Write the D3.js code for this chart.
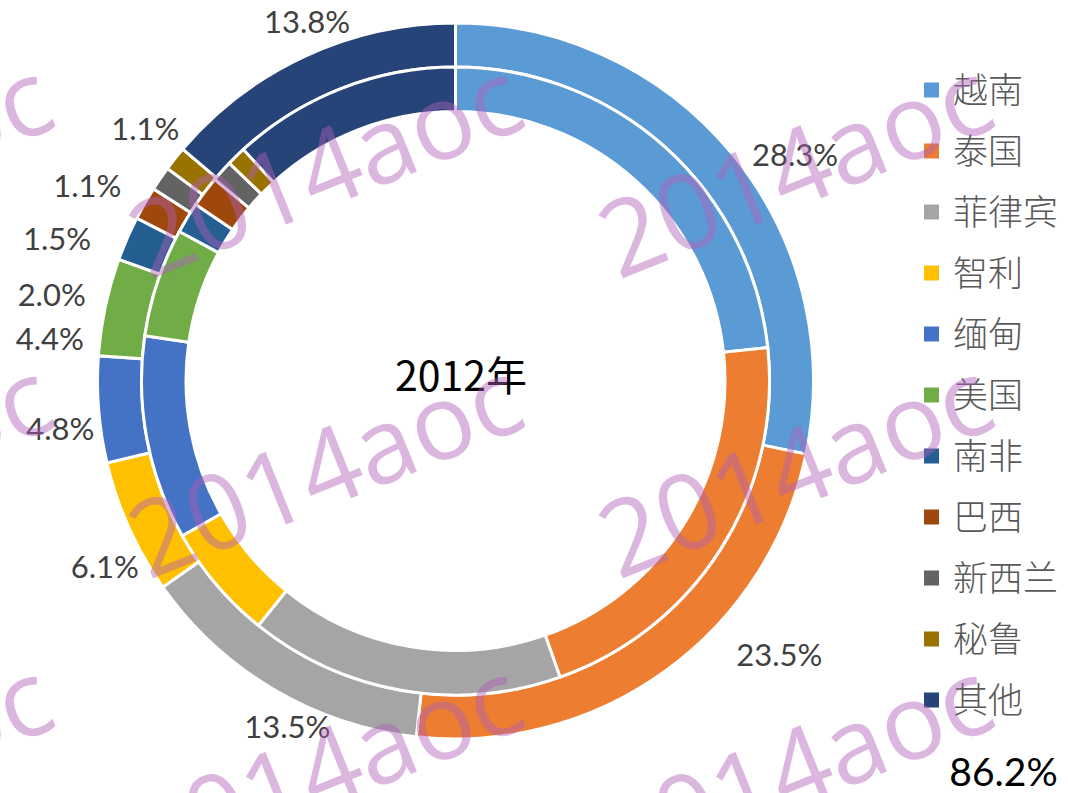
<!DOCTYPE html>
<html><head><meta charset="utf-8">
<script src="https://cdn.jsdelivr.net/npm/d3@7"></script>
<style>html,body{margin:0;padding:0;background:#fff;} svg{display:block}</style>
</head><body>
<svg id="chart" width="1068" height="793"></svg>
<script>
const categories = ["越南","泰国","菲律宾","智利","缅甸","美国","南非","巴西","新西兰","秘鲁","其他"];
const outerValues = [28.3,23.5,13.5,6.1,4.8,4.4,2.0,1.5,1.1,1.1,13.8];
const innerValues = [23.3,21.3,16.2,6.0,10.5,5.6,1.6,1.6,1.1,1.0,11.8];
const colors = ["#5B9BD5","#ED7D31","#A5A5A5","#FFC000","#4472C4","#70AD47","#255E91","#9E480E","#636363","#997300","#264478"];
const centerTitle = "2012年";
const totalLabel = "86.2%";
const watermarkText = "2014aoc";
// label placement: [angle in degrees clockwise from 12 o'clock, distance from centre]
const labelPolar = [[56.35,408],[130.2,424],[205.9,385],[242.05,397],[263.15,398],[275.98,408],[282.1,413],[289.6,423],[297.98,417],[309.16,400],[337.53,388.5]];

const W = 1068, H = 793;
const cx = 455.5, cy = 381;
const svg = d3.select("#chart");
const g = svg.append("g").attr("transform", `translate(${cx},${cy})`);

const color = d3.scaleOrdinal().domain(categories).range(colors);
const pie = d3.pie().sort(null).value(d => d.v);

const outerData = pie(categories.map((c,i)=>({c, v: outerValues[i]})));
const innerData = pie(categories.map((c,i)=>({c, v: innerValues[i]})));

const arcOuter = d3.arc().innerRadius(314).outerRadius(358);
const arcInner = d3.arc().innerRadius(269.5).outerRadius(314);

g.selectAll("path.outer").data(outerData).join("path")
  .attr("class","outer").attr("d", arcOuter)
  .attr("fill", d => color(d.data.c)).attr("stroke","#fff").attr("stroke-width",3);
g.selectAll("path.inner").data(innerData).join("path")
  .attr("class","inner").attr("d", arcInner)
  .attr("fill", d => color(d.data.c)).attr("stroke","#fff").attr("stroke-width",3);

// data labels
const fmt = d3.format(".1f");
g.selectAll("text.lbl").data(outerData).join("text")
  .attr("class","lbl")
  .attr("x", (d,i) => labelPolar[i][1]*Math.sin(labelPolar[i][0]*Math.PI/180))
  .attr("y", (d,i) => -labelPolar[i][1]*Math.cos(labelPolar[i][0]*Math.PI/180))
  .attr("dy","0.36em").attr("text-anchor","middle")
  .style("font-family","Lato, 'Open Sans', sans-serif").style("font-size","31px")
  .attr("fill","#404040")
  .text(d => fmt(d.data.v) + "%");

// centre title
g.append("text").attr("x",5.5).attr("y",-5).attr("dy","0.36em").attr("text-anchor","middle")
  .style("font-family","'Noto Sans CJK SC', sans-serif").style("font-size","41px")
  .attr("fill","#000").text(centerTitle);

// legend
const legend = svg.append("g").attr("transform","translate(924,90)");
const li = legend.selectAll("g").data(categories).join("g")
  .attr("transform",(d,i)=>`translate(0,${i*61})`);
li.append("rect").attr("x",0).attr("y",-7.5).attr("width",15).attr("height",15).attr("fill",d=>color(d));
li.append("text").attr("x",29).attr("y",0).attr("dy","0.36em")
  .style("font-family","'Noto Sans CJK SC', sans-serif").style("font-size","35px").style("font-weight","300")
  .attr("fill","#595959").text(d=>d);

// total label
svg.append("text").attr("x",1003.5).attr("y",772).attr("dy","0.36em").attr("text-anchor","middle")
  .style("font-family","Lato, 'Open Sans', sans-serif").style("font-size","39px")
  .attr("fill","#000").text(totalLabel);

// watermark
const wm = svg.append("g").style("pointer-events","none");
const wmCols = [-145, 325, 795], wmRows = [168, 468, 768];
wmRows.forEach(ry => wmCols.forEach(rx => {
  wm.append("text").attr("transform",`translate(${rx},${ry}) rotate(-22)`)
    .attr("text-anchor","middle").attr("dy","0.36em")
    .style("font-family","'Open Sans', sans-serif").style("font-size","105px").style("font-weight","400")
    .attr("fill","rgba(175,95,185,0.45)").text(watermarkText);
}));
</script>
</body></html>
